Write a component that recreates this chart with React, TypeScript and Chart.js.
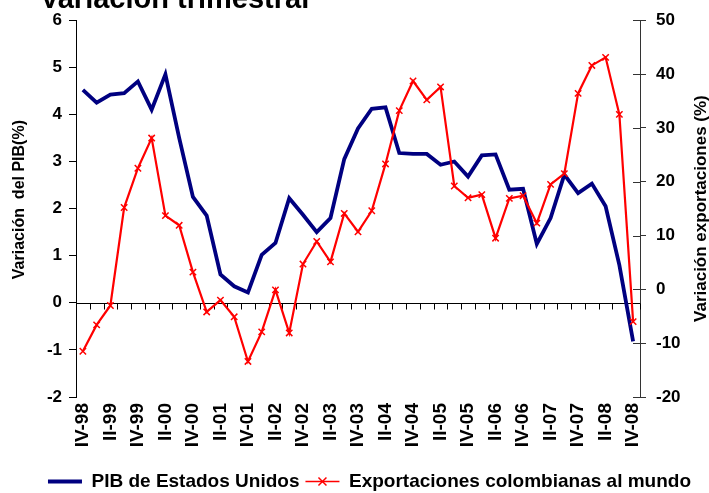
import React, { useEffect, useRef } from 'react';
import { Chart, registerables } from 'chart.js';

Chart.register(...registerables);

const quarters = [
  'IV-98',
  'I-99', 'II-99', 'III-99', 'IV-99',
  'I-00', 'II-00', 'III-00', 'IV-00',
  'I-01', 'II-01', 'III-01', 'IV-01',
  'I-02', 'II-02', 'III-02', 'IV-02',
  'I-03', 'II-03', 'III-03', 'IV-03',
  'I-04', 'II-04', 'III-04', 'IV-04',
  'I-05', 'II-05', 'III-05', 'IV-05',
  'I-06', 'II-06', 'III-06', 'IV-06',
  'I-07', 'II-07', 'III-07', 'IV-07',
  'I-08', 'II-08', 'III-08', 'IV-08',
];

const pibEstadosUnidos = [
  4.52, 4.25, 4.42, 4.45, 4.7, 4.1, 4.85, 3.5, 2.25, 1.85,
  0.6, 0.35, 0.22, 1.02, 1.27, 2.22, 1.87, 1.5, 1.8, 3.05,
  3.7, 4.12, 4.15, 3.18, 3.16, 3.16, 2.93, 3.0, 2.68, 3.13,
  3.15, 2.4, 2.42, 1.25, 1.8, 2.72, 2.33, 2.53, 2.05, 0.8,
  -0.82,
];

const exportacionesColombianas = [
  -11.5, -6.6, -3.0, 15.2, 22.5, 28.1, 13.7, 11.9, 3.2, -4.2,
  -2.0, -5.1, -13.4, -7.9, -0.1, -8.1, 4.7, 8.9, 5.1, 14.1,
  10.7, 14.6, 23.3, 33.2, 38.7, 35.2, 37.6, 19.2, 17.0, 17.6,
  9.5, 16.9, 17.4, 12.3, 19.5, 21.5, 36.4, 41.6, 43.1, 32.5,
  -6.0,
];

const seriesNames = ['PIB de Estados Unidos', 'Exportaciones colombianas al mundo'];
const chartTitle = 'Variación trimestral';
const leftAxisTitle = 'Variación  del PIB(%)';
const rightAxisTitle = 'Variación exportaciones (%)';
const leftRange = [-2, 6, 1];
const rightRange = [-20, 50, 10];

const FONT = "'Liberation Sans', Arial, Helvetica, sans-serif";
const BLUE = '#000080';
const RED = '#FF0000';
const RIGHT_AXIS_COLOR = '#333333';

const overlayPlugin = {
  id: 'overlay',
  beforeDatasetsDraw(chart: any) {
    const { ctx, chartArea, scales } = chart;
    const x = scales.x;
    const y = scales.y;
    const y1 = scales.y1;
    const y0 = Math.round(y.getPixelForValue(0)) + 0.5;
    ctx.save();
    ctx.lineWidth = 1;
    ctx.strokeStyle = '#000';
    ctx.beginPath();
    ctx.moveTo(chartArea.left, y0);
    ctx.lineTo(chartArea.right, y0);
    const step = x.getPixelForValue(1) - x.getPixelForValue(0);
    for (let i = 0; i <= quarters.length; i++) {
      const px = Math.round(x.getPixelForValue(i) - step / 2) + 0.5;
      ctx.moveTo(px, y0);
      ctx.lineTo(px, y0 + 6);
    }
    ctx.stroke();
    ctx.strokeStyle = RIGHT_AXIS_COLOR;
    ctx.beginPath();
    y1.ticks.forEach((t: any) => {
      const py = Math.round(y1.getPixelForValue(t.value)) + 0.5;
      ctx.moveTo(chartArea.right - 7, py);
      ctx.lineTo(chartArea.right, py);
    });
    ctx.stroke();
    ctx.restore();
  },
  afterDraw(chart: any) {
    const { ctx, chartArea, legend } = chart;
    const midY = (chartArea.top + chartArea.bottom) / 2;
    ctx.save();
    ctx.fillStyle = '#000';
    // clipped title at the top
    ctx.font = `bold 29px ${FONT}`;
    ctx.textAlign = 'left';
    ctx.textBaseline = 'alphabetic';
    ctx.fillText(chartTitle, 40, 8);
    ctx.textAlign = 'center';
    ctx.textBaseline = 'middle';
    // left axis title
    ctx.save();
    ctx.font = `bold 16px ${FONT}`;
    ctx.translate(20, midY - 9);
    ctx.rotate(-Math.PI / 2);
    ctx.fillText(leftAxisTitle, 0, 0);
    ctx.restore();
    // right axis title, reading bottom to top
    ctx.save();
    ctx.font = `bold 17px ${FONT}`;
    ctx.translate(701, midY);
    ctx.rotate(-Math.PI / 2);
    ctx.fillText(rightAxisTitle, 0, 0);
    ctx.restore();
    ctx.restore();
    // marker on the second legend sample
    if (legend && legend.legendHitBoxes && legend.legendHitBoxes[1]) {
      const hb = legend.legendHitBoxes[1];
      const bw = legend.options.labels.pointStyleWidth;
      const cx = hb.left + bw / 2;
      const cy = hb.top + hb.height / 2;
      ctx.save();
      ctx.strokeStyle = RED;
      ctx.lineWidth = 1.5;
      const r = 4;
      ctx.beginPath();
      ctx.moveTo(cx - r, cy - r);
      ctx.lineTo(cx + r, cy + r);
      ctx.moveTo(cx - r, cy + r);
      ctx.lineTo(cx + r, cy - r);
      ctx.stroke();
      ctx.restore();
    }
  },
};

export default function App() {
  const canvasRef = useRef<HTMLCanvasElement | null>(null);

  useEffect(() => {
    const canvas = canvasRef.current;
    if (!canvas) return;
    const chart = new Chart(canvas, {
      type: 'line',
      data: {
        labels: quarters,
        datasets: [
          {
            label: seriesNames[0],
            data: pibEstadosUnidos,
            yAxisID: 'y',
            borderColor: BLUE,
            backgroundColor: BLUE,
            borderWidth: 3.8,
            pointRadius: 0,
            tension: 0,
            order: 1,
          },
          {
            label: seriesNames[1],
            data: exportacionesColombianas,
            yAxisID: 'y1',
            borderColor: RED,
            backgroundColor: RED,
            borderWidth: 2.2,
            pointStyle: 'crossRot',
            pointRadius: 4.5,
            pointBorderWidth: 1.5,
            pointBorderColor: RED,
            tension: 0,
            order: 0,
          },
        ],
      },
      options: {
        responsive: false,
        animation: false,
        events: [],
        layout: { padding: { top: 17, left: 30, right: 0, bottom: -8 } },
        plugins: {
          tooltip: { enabled: false },
          title: { display: false },
          legend: {
            display: true,
            position: 'bottom',
            labels: {
              color: '#000',
              font: { family: FONT, size: 19, weight: 'bold' },
              usePointStyle: true,
              pointStyleWidth: 34,
              padding: 6,
              sort: (a: any, b: any) => a.datasetIndex - b.datasetIndex,
              generateLabels: (c: any) => {
                const items = (Chart as any).defaults.plugins.legend.labels.generateLabels(c);
                return items.map((it: any) => ({ ...it, pointStyle: 'line' }));
              },
            },
          },
        },
        scales: {
          x: {
            type: 'category',
            offset: true,
            grid: { display: false, drawTicks: false },
            border: { display: false },
            afterFit: (scale: any) => { scale.height = 69; },
            ticks: {
              color: '#000',
              font: { family: FONT, size: 19, weight: 'bold' },
              autoSkip: false,
              maxRotation: 90,
              minRotation: 90,
              padding: 6,
              callback: (_v: any, i: number) => (i % 2 === 0 ? quarters[i] : ''),
            },
          },
          y: {
            position: 'left',
            min: leftRange[0],
            max: leftRange[1],
            afterFit: (scale: any) => { scale.width = 46; },
            grid: { drawOnChartArea: false, drawTicks: true, tickLength: 7, color: '#000' },
            border: { display: true, color: '#000', width: 1 },
            ticks: {
              stepSize: leftRange[2],
              color: '#000',
              padding: 7,
              font: { family: FONT, size: 17, weight: 'bold' },
            },
          },
          y1: {
            position: 'right',
            min: rightRange[0],
            max: rightRange[1],
            afterFit: (scale: any) => { scale.width = 69; },
            grid: { drawOnChartArea: false, drawTicks: true, tickLength: 6, color: RIGHT_AXIS_COLOR },
            border: { display: true, color: RIGHT_AXIS_COLOR, width: 1 },
            ticks: {
              stepSize: rightRange[2],
              color: '#000',
              padding: 10,
              font: { family: FONT, size: 17, weight: 'bold' },
            },
          },
        },
      },
      plugins: [overlayPlugin],
    } as any);
    return () => chart.destroy();
  }, []);

  return (
    <div style={{ position: 'absolute', left: 0, top: 0, width: 709, height: 493, background: '#fff' }}>
      <canvas ref={canvasRef} width={709} height={493} />
    </div>
  );
}
